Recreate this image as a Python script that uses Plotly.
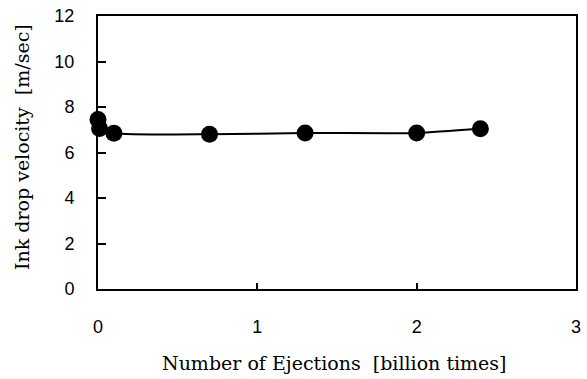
import plotly.graph_objects as go

ejections = [0, 0.01, 0.1, 0.7, 1.3, 2.0, 2.4]
velocity = [7.45, 7.05, 6.85, 6.8, 6.86, 6.86, 7.04]
x_ticks = [0, 1, 2, 3]
y_ticks = [0, 2, 4, 6, 8, 10, 12]

fig = go.Figure()
fig.add_trace(go.Scatter(
    x=ejections, y=velocity, mode="lines+markers",
    line=dict(color="black", width=2, shape="spline", smoothing=0.6),
    marker=dict(color="black", size=17),
    cliponaxis=False,
    showlegend=False,
))

tickfont = dict(family="Liberation Sans, Arial, sans-serif", size=18, color="black")
fig.update_xaxes(
    range=[0, 3], tickvals=x_ticks, ticktext=[str(v) for v in x_ticks],
    showline=True, linecolor="black", linewidth=2, mirror=True,
    ticks="inside", ticklen=6, tickwidth=1.5, tickcolor="black",
    showgrid=False, zeroline=False, tickfont=tickfont, ticklabelstandoff=20,
)
fig.update_yaxes(
    range=[0, 12], tickvals=y_ticks, ticktext=[str(v) for v in y_ticks],
    showline=True, linecolor="black", linewidth=2, mirror=True,
    ticks="inside", ticklen=8, tickwidth=1.5, tickcolor="black",
    showgrid=False, zeroline=False, tickfont=tickfont, ticklabelstandoff=18,
)

titlefont = dict(family="DejaVu Serif, Liberation Serif, serif", size=19, color="black")
fig.add_annotation(text="Number of Ejections  [billion times]", xref="paper", yref="paper",
                   x=0.495, y=0, xanchor="center", yanchor="top", yshift=-61,
                   showarrow=False, font=titlefont)
fig.add_annotation(text="Ink drop velocity  [m/sec]", xref="paper", yref="paper",
                   x=0, y=0.52, xanchor="center", yanchor="middle", xshift=-76,
                   textangle=-90, showarrow=False, font=titlefont)

fig.update_layout(
    width=587, height=379,
    margin=dict(l=98, r=6, t=15, b=90),
    paper_bgcolor="white", plot_bgcolor="white",
)
fig.write_html("out.html", config={"displayModeBar": False},
               post_script="document.body.style.margin='0';document.body.style.overflow='hidden';")
